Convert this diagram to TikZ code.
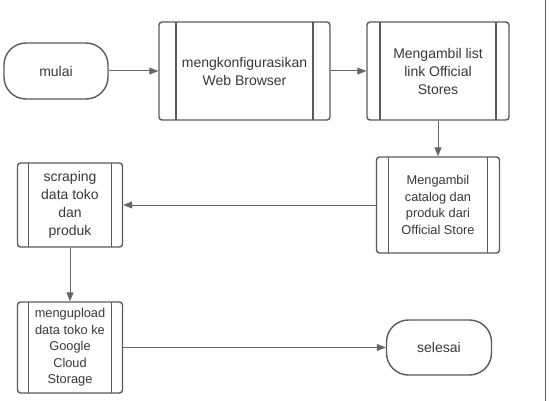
\documentclass[tikz,border=0pt]{standalone}
\usepackage{fontspec}
\setmainfont{Liberation Sans}
\usetikzlibrary{arrows.meta}

\definecolor{lineclr}{HTML}{5A5A5A}
\definecolor{arrowclr}{HTML}{666666}
\definecolor{textclr}{HTML}{383838}

\begin{document}
\begin{tikzpicture}[x=1pt, y=-1pt, >={Triangle[length=9pt,width=7pt]},
	every node/.style={align=center, text=textclr, font=\fontsize{14}{18}\selectfont},
	term/.style={draw=lineclr, line width=1.4pt, rounded corners=22pt, minimum width=104pt, minimum height=56pt},
	proc/.style={draw=lineclr, line width=1.4pt, rounded corners=3pt, inner sep=0pt, path picture={
		\draw[lineclr, line width=1.4pt] ([xshift=#1]path picture bounding box.north west) -- ([xshift=#1]path picture bounding box.south west);
		\draw[lineclr, line width=1.4pt] ([xshift=-#1]path picture bounding box.north east) -- ([xshift=-#1]path picture bounding box.south east);}},
	small/.style={font=\fontsize{12.8}{16.5}\selectfont}]
	\useasboundingbox (0,0) rectangle (549,401);

	\node[term] (mulai) at (56,71) {mulai};
	\node[proc=17pt, minimum width=171pt, minimum height=98pt, right of=mulai, node distance=188.5pt] (config) {mengkonfigurasikan\\Web Browser};
	\node[proc=13pt, minimum width=142pt, minimum height=98pt, right of=config, node distance=193.5pt] (liststores) {Mengambil list\\link Official\\Stores};
	\node[proc=12pt, small, minimum width=123pt, minimum height=96pt, below of=liststores, node distance=134pt] (catalog) {Mengambil\\catalog dan\\produk dari\\Official Store};
	\node[proc=11pt, minimum width=105pt, minimum height=84pt, left of=catalog, node distance=368pt] (scrape) {scraping\\data toko\\dan\\produk};
	\node[proc=11pt, small, minimum width=105pt, minimum height=91pt, below of=scrape, node distance=142.5pt] (upload) {mengupload\\data toko ke\\Google\\Cloud\\Storage};
	\node[term, minimum width=105pt, minimum height=55pt, right of=upload, node distance=369pt] (selesai) {selesai};

	\path[->, arrowclr, line width=1pt]
		(mulai) edge (config)
		(config) edge (liststores)
		(liststores) edge (catalog)
		(catalog) edge (scrape)
		(scrape) edge (upload)
		(upload) edge (selesai)
	;

	% right border
	\coordinate (bordertop) at (545,0);
	\coordinate (borderbot) at (545,401);
	\draw[lineclr, line width=1pt] (bordertop) -- (borderbot);
\end{tikzpicture}
\end{document}
